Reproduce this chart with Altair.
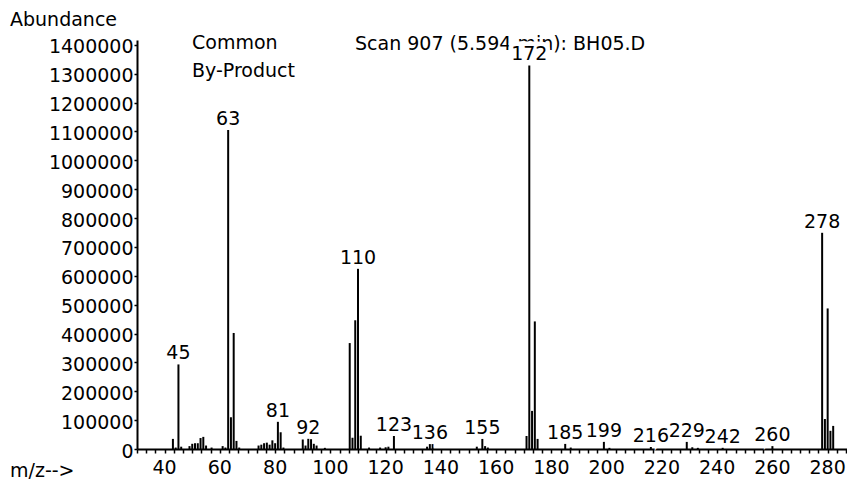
import altair as alt
import pandas as pd

# ---- data ----
mz = [43, 44, 45, 46, 49, 50, 51, 52, 53, 54, 55, 57, 61, 62,
      63, 64, 65, 66, 67,
      74, 75, 76, 77, 78, 79, 80, 81, 82, 83,
      90, 91, 92, 93, 94, 95, 98,
      107, 108, 109, 110, 111, 114, 118, 120, 121, 123,
      135, 136, 137, 153, 155, 156, 157,
      171, 172, 173, 174, 175,
      185, 187, 199, 201, 216, 229, 231, 233, 242, 260,
      278, 279, 280, 281, 282]
abundance = [35000, 5000, 293000, 8000, 10000, 18000, 20000, 20000, 38000, 42000, 12000, 5000, 10000, 5000,
             1105000, 110000, 402000, 28000, 5000,
             12000, 15000, 20000, 22000, 15000, 30000, 20000, 95000, 58000, 5000,
             33000, 12000, 36000, 34000, 18000, 12000, 4000,
             367000, 39000, 446000, 625000, 46000, 5000, 5000, 6000, 8000, 45000,
             8000, 17000, 17000, 8000, 35000, 10000, 5000,
             45000, 1329000, 132000, 442000, 35000,
             18000, 5000, 25000, 4000, 7000, 25000, 6000, 4000, 5000, 10000,
             750000, 104000, 487000, 63000, 80000]

label_mz = [45, 63, 81, 92, 110, 123, 136, 155, 172, 185, 199, 216, 229, 242, 260, 278]

y_ticks = [0, 100000, 200000, 300000, 400000, 500000, 600000, 700000,
           800000, 900000, 1000000, 1100000, 1200000, 1300000, 1400000]
x_label_vals = [40, 60, 80, 100, 120, 140, 160, 180, 200, 220, 240, 260, 280]

title_text = "Scan 907 (5.594 min): BH05.D"
compound_lines = ["Common", "By-Product"]
y_title = "Abundance"
x_title = "m/z-->"

FONT = "DejaVu Sans"
FS = 19

peaks = pd.DataFrame({"mz": mz, "ab": abundance})
labels = pd.DataFrame({"mz": label_mz,
                       "ab": [abundance[mz.index(m)] for m in label_mz],
                       "txt": [str(m) for m in label_mz]})
xlabels = pd.DataFrame({"v": x_label_vals, "t": [str(v) for v in x_label_vals]})

# minor ticks every 20/6 m/z units, as on the instrument printout
x_ticks = [round(30 + k * 10 / 3, 3) for k in range(78)]

xscale = alt.Scale(domain=[30, 287], nice=False, zero=False)
yscale = alt.Scale(domain=[0, 1417000], nice=False)

xaxis = alt.Axis(values=x_ticks, title=None, grid=False, labels=False,
                 tickSize=4, tickColor="black", tickWidth=1.5,
                 domainColor="black", domainWidth=2)
yaxis = alt.Axis(values=y_ticks, title=None, grid=False, format="d", labelOverlap=False,
                 labelFont=FONT, labelFontSize=FS, labelColor="black",
                 tickSize=3, tickColor="black", tickWidth=1.5,
                 domainColor="black", domainWidth=2, labelPadding=1, labelOffset=2)

X = lambda f: alt.X(f, scale=xscale, axis=xaxis)
Y = lambda f: alt.Y(f, scale=yscale, axis=yaxis)

bars = alt.Chart(peaks).mark_rule(color="black", strokeWidth=2).encode(
    x=X("mz:Q"), y=Y("ab:Q"), y2=alt.datum(0),
)

xlab = alt.Chart(xlabels).mark_text(
    font=FONT, fontSize=FS, color="black", align="center", baseline="middle"
).encode(x=X("v:Q"), y=alt.value(428), text="t:N")

halo = alt.Chart(labels).mark_text(
    font=FONT, fontSize=FS, color="white", stroke="white", strokeWidth=9,
    baseline="alphabetic", dy=-5, align="center"
).encode(x=X("mz:Q"), y=Y("ab:Q"), text="txt:N")

peak_labels = alt.Chart(labels).mark_text(
    font=FONT, fontSize=FS, color="black", baseline="alphabetic", dy=-5, align="center"
).encode(x=X("mz:Q"), y=Y("ab:Q"), text="txt:N")

def note(txt, x, y):
    return alt.Chart(pd.DataFrame({"t": [txt]})).mark_text(
        font=FONT, fontSize=FS, color="black", align="left", baseline="middle"
    ).encode(x=alt.value(x), y=alt.value(y), text="t:N")

notes = [
    note(y_title, -127, -20),
    note(x_title, -127, 431),
    note(compound_lines[0], 55, 3),
    note(compound_lines[1], 55, 31),
    note(title_text, 218, 4),
]

chart = alt.layer(bars, xlab, *notes, halo, peak_labels).properties(
    width=710, height=409,
    autosize=alt.AutoSizeParams(type="none"),
    padding={"left": 137, "top": 40, "right": 0, "bottom": 32},
    background="white",
).configure_view(stroke=None)

chart.save("out.html", embed_options={"renderer": "svg", "actions": False})
